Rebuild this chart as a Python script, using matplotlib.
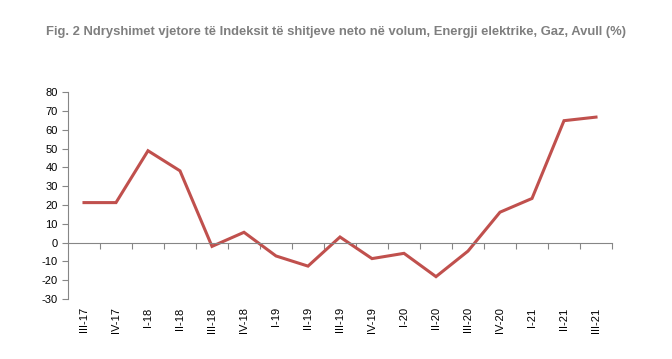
import numpy as np
import matplotlib.pyplot as plt

plt.rcParams['font.family'] = ['Liberation Sans', 'DejaVu Sans']
plt.rcParams['axes.unicode_minus'] = False

quarters = ['III-17', 'IV-17', 'I-18', 'II-18', 'III-18', 'IV-18', 'I-19', 'II-19',
            'III-19', 'IV-19', 'I-20', 'II-20', 'III-20', 'IV-20', 'I-21', 'II-21', 'III-21']
change = [21.3, 21.3, 48.9, 38.2, -2.0, 5.5, -7.1, -12.5,
          3.0, -8.5, -5.7, -18.1, -4.5, 16.2, 23.5, 64.9, 66.8]

title = 'Fig. 2 Ndryshimet vjetore të Indeksit të shitjeve neto në volum, Energji elektrike, Gaz, Avull (%)'

fig = plt.figure(figsize=(6.72, 3.59), dpi=100)
ax = fig.add_axes([68 / 672, 1 - 299 / 359, (612 - 68) / 672, (299 - 92.3) / 359])

x = np.arange(len(quarters))
ax.plot(x, change, color='#C0504D', lw=2.2, solid_joinstyle='miter')

ax.set_xlim(-0.5, len(quarters) - 0.5)
ax.set_ylim(-30, 80)
ax.set_yticks(range(-30, 81, 10))

grey = '#868686'
for s in ['top', 'right']:
    ax.spines[s].set_visible(False)
ax.spines['left'].set_color(grey)
ax.spines['bottom'].set_color(grey)
ax.spines['bottom'].set_position(('data', 0))

# ticks on the zero line sit at category boundaries, labels go under the plot
ax.set_xticks(np.arange(len(quarters)) + 0.5)
ax.set_xticklabels([])
ax.tick_params(axis='x', colors=grey, length=4, width=0.8)
ax.tick_params(axis='y', colors=grey, labelcolor='black', length=4, width=0.8, labelsize=8)

for i, q in enumerate(quarters):
    ax.text(i, -0.04, q, rotation=90, ha='center', va='top', fontsize=8,
            transform=ax.get_xaxis_transform())

fig.text(0.5, 1 - 32 / 359, title, ha='center', va='center', fontsize=9.4,
         fontweight='bold', color='#7F7F7F')

fig.savefig('out.png', dpi=100)
